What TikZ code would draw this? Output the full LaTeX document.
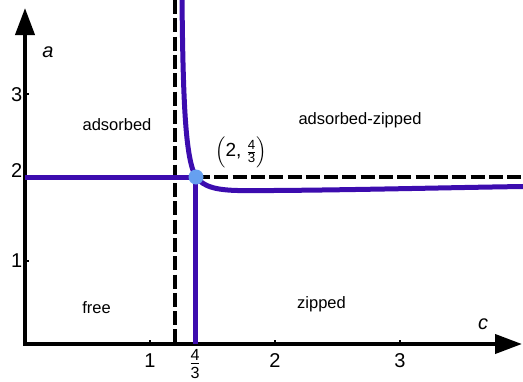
\documentclass[tikz,border=0pt]{standalone}
\usepackage{amsmath}
\usepackage{fontspec}
\setmainfont{Liberation Sans}
\usetikzlibrary{arrows.meta}
\definecolor{purp}{RGB}{60,12,175}
\definecolor{dotblue}{RGB}{102,160,240}
\tikzset{
  axisline/.style={line width=4pt, -{Triangle[length=27pt,width=19pt]}},
  dashline/.style={line width=4pt, dash pattern=on 14pt off 4.3pt},
  phase/.style={line width=5pt, color=purp},
  tickmark/.style={line width=2pt},
  ticklab/.style={font=\fontsize{20}{22}\selectfont, inner sep=0pt},
  region/.style={font=\fontsize{16.5}{19}\selectfont, inner sep=0pt},
  varlab/.style={font=\fontsize{20}{22}\selectfont\itshape, inner sep=0pt}
}
\begin{document}
\begin{tikzpicture}[x=1pt,y=-1pt]
\useasboundingbox (0,0) rectangle (523,381);
% coordinates
\coordinate (O) at (25,344);
\coordinate (Oleft) at (23,344);
\coordinate (Ytop) at (25,8);
\coordinate (Xend) at (522,344);
\coordinate (Dtop) at (175,0);
\coordinate (Dbot) at (175,344);
\coordinate (P) at (196,177);
\coordinate (Hleft) at (25,177);
\coordinate (Hright) at (523,177);
\coordinate (Vtop) at (195,177);
\coordinate (Vbot) at (195,344);
\coordinate (Ctop) at (182,-3);
\coordinate (Cmid) at (245,190.6);
\coordinate (Cend) at (524,186.5);
% axes
\draw[axisline] (O) -- (Ytop);
\draw[axisline] (Oleft) -- (Xend);
% ticks
\foreach \x/\n in {150/t1,275/t2,400/t3}{
  \coordinate (\n a) at (\x,344); \coordinate (\n b) at (\x,340);
  \draw[tickmark] (\n a) -- (\n b);
}
\foreach \y/\n in {94/u3,261/u1}{
  \coordinate (\n a) at (25,\y); \coordinate (\n b) at (29,\y);
  \draw[tickmark] (\n a) -- (\n b);
}
% dashed lines
\draw[dashline] (Dtop) -- (Dbot);
\draw[dashline] (P) -- (Hright);
% purple boundaries
\draw[phase] (Hleft) -- (P);
\draw[phase] (Vtop) -- (Vbot);
\draw[phase] (Ctop) .. controls (183,110) and (186,160) .. (P)
  .. controls (204,187) and (216,190.6) .. (Cmid)
  .. controls (330,190.6) and (450,187.5) .. (Cend);
% point
\fill[dotblue] (P) circle (7.5);
% tick labels
\node[ticklab] (x1) at (150,361) {1};
\node[font=\fontsize{23}{25}\selectfont, inner sep=0pt] (x43) at (195,364) {$\frac{\text{4}}{\text{3}}$};
\node[ticklab] (x2) at (275,361) {2};
\node[ticklab] (x3) at (400,361) {3};
\node[ticklab, anchor=east] (y3) at (22.5,94.5) {3};
\node[ticklab, anchor=east] (y2) at (22.5,170.5) {2};
\node[ticklab, anchor=east] (y1) at (22.5,260.5) {1};
% axis variable labels
\node[varlab] (alab) at (48,52) {a};
\node[varlab] (clab) at (483,324) {c};
% region labels
\node[region] (ads) at (117,125) {adsorbed};
\node[region] (adz) at (360,120) {adsorbed-zipped};
\node[region] (free) at (96.5,308) {free};
\node[region] (zip) at (321.5,304) {zipped};
\node[font=\fontsize{19}{21}\selectfont, inner sep=0pt] (plab) at (241,152) {$\left(\text{2, }\frac{\text{4}}{\text{3}}\right)$};
\end{tikzpicture}
\end{document}
